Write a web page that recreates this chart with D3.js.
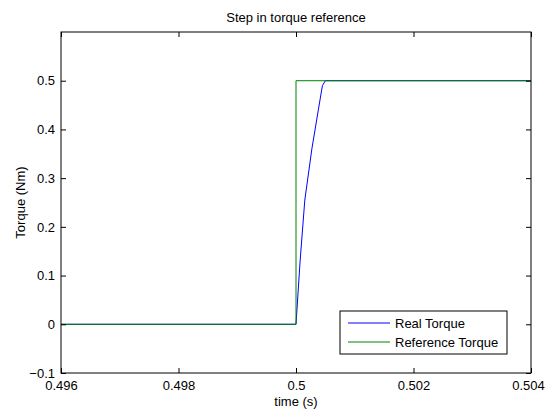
<!DOCTYPE html>
<html>
<head>
<meta charset="utf-8">
<script src="https://cdn.jsdelivr.net/npm/d3@7"></script>
<style>
  body { margin: 0; background: #fff; }
  text { font-family: "Liberation Sans", Arial, sans-serif; font-size: 13px; fill: #000; }
</style>
</head>
<body>
<div id="chart"></div>
<script>
// data
var realTime   = [0.496, 0.5, 0.50007, 0.50015, 0.50027, 0.50038, 0.50045, 0.5005, 0.504];
var realTorque = [0, 0, 0.13, 0.255, 0.36, 0.44, 0.49, 0.5, 0.5];
var refTime    = [0.496, 0.5, 0.5, 0.504];
var refTorque  = [0, 0, 0.5, 0.5];
var xTicks = [0.496, 0.498, 0.5, 0.502, 0.504];
var yTicks = [-0.1, 0, 0.1, 0.2, 0.3, 0.4, 0.5];
var seriesNames = ["Real Torque", "Reference Torque"];
var seriesColors = ["#0000ff", "#008000"];

var W = 545, H = 410;
var margin = {top: 32, right: 14, bottom: 37, left: 61},
    width = W - margin.left - margin.right,
    height = H - margin.top - margin.bottom;

var svg = d3.select("#chart").append("svg")
    .attr("width", W).attr("height", H)
  .append("g")
    .attr("transform", "translate(" + margin.left + "," + margin.top + ")");

var x = d3.scaleLinear().domain([0.496, 0.504]).range([0, width]);
var y = d3.scaleLinear().domain([-0.1, 0.6]).range([height, 0]);

var line = d3.line()
    .x(function(d) { return x(d[0]); })
    .y(function(d) { return y(d[1]); });

var series = [d3.zip(realTime, realTorque), d3.zip(refTime, refTorque)];

svg.selectAll(".series")
    .data(series)
    .enter().append("path")
    .attr("class", "series")
    .attr("d", line)
    .attr("fill", "none")
    .attr("stroke-width", 1)
    .attr("stroke", function(d, i) { return seriesColors[i]; });

// axes with inward ticks (bottom/left labelled, top/right mirrored)
var fmt = function(d) { return d3.format("~g")(d); };
function styleAxis(g) {
  g.select(".domain").remove();
  g.selectAll(".tick line").attr("stroke", "#000");
  g.selectAll(".tick text").style("font-size", "13px").style("font-family", "Liberation Sans, Arial, sans-serif");
}
var xAxis = svg.append("g")
    .attr("transform", "translate(0," + height + ")")
    .call(d3.axisBottom(x).tickValues(xTicks).tickFormat(fmt).tickSizeInner(-5).tickSizeOuter(0).tickPadding(8))
    .call(styleAxis);
// keep the last label inside the window
xAxis.selectAll(".tick text").filter(function(d, i) { return i === xTicks.length - 1; })
    .attr("dx", -3);
svg.append("g")
    .call(d3.axisTop(x).tickValues(xTicks).tickFormat("").tickSizeInner(-5).tickSizeOuter(0))
    .call(styleAxis);
svg.append("g")
    .call(d3.axisLeft(y).tickValues(yTicks).tickFormat(fmt).tickSizeInner(-5).tickSizeOuter(0).tickPadding(6))
    .call(styleAxis);
svg.append("g")
    .attr("transform", "translate(" + width + ",0)")
    .call(d3.axisRight(y).tickValues(yTicks).tickFormat("").tickSizeInner(-5).tickSizeOuter(0))
    .call(styleAxis);

svg.append("rect")
    .attr("width", width).attr("height", height)
    .attr("fill", "none").attr("stroke", "#000").attr("stroke-width", 1);

// title and axis labels
svg.append("text")
    .attr("x", width / 2).attr("y", -10)
    .style("text-anchor", "middle")
    .text("Step in torque reference");
svg.append("text")
    .attr("x", width / 2).attr("y", height + 33)
    .style("text-anchor", "middle")
    .text("time (s)");
svg.append("text")
    .attr("transform", "rotate(-90)")
    .attr("x", -height / 2).attr("y", -36)
    .style("text-anchor", "middle")
    .text("Torque (Nm)");

// legend
var legend = svg.append("g")
    .attr("transform", "translate(" + (340 - margin.left) + "," + (311 - margin.top) + ")");
legend.append("rect")
    .attr("width", 167).attr("height", 43)
    .attr("fill", "#fff").attr("stroke", "#000").attr("stroke-width", 1);
var item = legend.selectAll(".legend")
    .data(seriesNames)
    .enter().append("g")
    .attr("class", "legend")
    .attr("transform", function(d, i) { return "translate(0," + (12 + i * 19) + ")"; });
item.append("line")
    .attr("x1", 8).attr("x2", 50)
    .attr("stroke", function(d, i) { return seriesColors[i]; })
    .attr("stroke-width", 1);
item.append("text")
    .attr("x", 55).attr("dy", "0.35em")
    .text(function(d) { return d; });
</script>
</body>
</html>
